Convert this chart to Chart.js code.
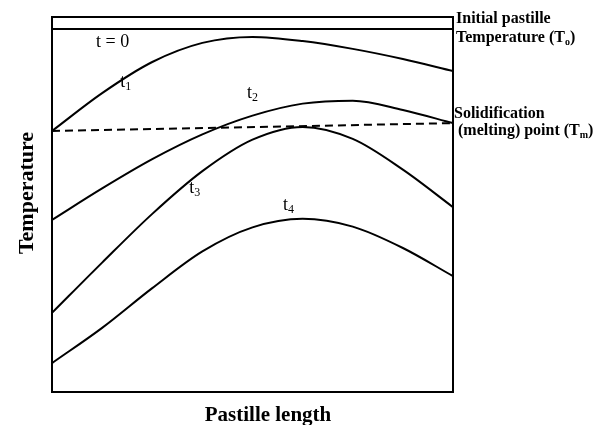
<!DOCTYPE html>
<html>
<head>
<meta charset="utf-8">
<script src="https://cdn.jsdelivr.net/npm/chart.js@4/dist/chart.umd.min.js"></script>
<style>
  body { margin: 0; background: #fff; }
  #wrap { width: 594px; height: 425px; }
</style>
</head>
<body>
<div id="wrap"><canvas id="myChart" width="594" height="425"></canvas></div>
<script>
// position along the pastille (0 - 100 %), sampled evenly
const lengthGrid = [0, 12.5, 25, 37.5, 50, 62.5, 75, 87.5, 100];

// temperature (0 - 100 relative) at each grid position
const tempT0 = [96.8, 96.8, 96.8, 96.8, 96.8, 96.8, 96.8, 96.8, 96.8];
const tempT1 = [69.6, 79.7, 88.0, 93.1, 94.7, 93.6, 91.5, 88.8, 85.6];
const tempT2 = [45.9, 54.3, 62.1, 68.7, 73.7, 76.9, 77.7, 75.2, 71.7];
const tempT3 = [21.1, 34.5, 47.5, 58.9, 67.3, 70.7, 67.5, 59.3, 49.3];
const tempT4 = [7.7, 17.1, 27.7, 37.5, 43.9, 46.2, 44.1, 38.4, 30.9];

// melting point line
const lengthTm = [0, 100];
const tempTm = [69.6, 71.7];

// curve labels: text, subscript, left edge / baseline (length, temp)
const labelText = ['t = 0', 't', 't', 't', 't'];
const labelSub = ['', '1', '2', '3', '4'];
const labelX = [11.0, 17.0, 48.6, 34.2, 57.6];
const labelY = [92.0, 81.3, 78.4, 53.1, 48.5];

function toPoints(xs, ys) {
    return xs.map((x, i) => ({ x: x, y: ys[i] }));
}

function curve(ys) {
    return {
        data: toPoints(lengthGrid, ys),
        borderColor: '#000',
        borderWidth: 2,
        pointRadius: 0,
        fill: false,
        cubicInterpolationMode: 'monotone'
    };
}

const datasets = [
    curve(tempT0),
    curve(tempT1),
    curve(tempT2),
    curve(tempT3),
    curve(tempT4),
    {
        data: toPoints(lengthTm, tempTm),
        borderColor: '#000',
        borderWidth: 2,
        borderDash: [8, 5],
        pointRadius: 0,
        fill: false
    }
];

// writes text with a lowered subscript part, e.g. T + o
function textWithSub(ctx, main, sub, tail, x, y, size, bold) {
    const w = bold ? 'bold ' : '';
    ctx.font = w + size + 'px "Liberation Serif"';
    ctx.fillText(main, x, y);
    let off = ctx.measureText(main).width;
    if (sub) {
        ctx.font = w + Math.round(size * 0.65) + 'px "Liberation Serif"';
        ctx.fillText(sub, x + off, y + 3);
        off += ctx.measureText(sub).width;
    }
    if (tail) {
        ctx.font = w + size + 'px "Liberation Serif"';
        ctx.fillText(tail, x + off, y);
    }
}

// frame, labels and axis titles
const decorations = {
    id: 'decorations',
    afterDraw(chart) {
        const ctx = chart.ctx;
        const a = chart.chartArea;
        const xs = chart.scales.x;
        const ys = chart.scales.y;
        ctx.save();
        ctx.strokeStyle = '#000';
        ctx.lineWidth = 2;
        ctx.strokeRect(a.left, a.top, a.right - a.left, a.bottom - a.top);

        ctx.fillStyle = '#000';
        ctx.textBaseline = 'alphabetic';
        ctx.textAlign = 'left';
        for (let i = 0; i < labelText.length; i++) {
            const px = xs.getPixelForValue(labelX[i]);
            const py = ys.getPixelForValue(labelY[i]);
            textWithSub(ctx, labelText[i], labelSub[i], '', px, py, 18, false);
        }

        // right side notes
        textWithSub(ctx, 'Initial pastille', '', '', 456, 23, 16, true);
        textWithSub(ctx, 'Temperature (T', 'o', ')', 456, 42, 16, true);
        textWithSub(ctx, 'Solidification', '', '', 454, 118, 16, true);
        textWithSub(ctx, ' (melting) point (T', 'm', ')', 454, 135, 16, true);

        // axis titles
        ctx.font = 'bold 21px "Liberation Serif"';
        ctx.textAlign = 'center';
        ctx.fillText('Pastille length', 268, 421);
        ctx.font = 'bold 22px "Liberation Serif"';
        ctx.translate(33, 193);
        ctx.rotate(-Math.PI / 2);
        ctx.fillText('Temperature', 0, 0);
        ctx.restore();
    }
};

const config = {
    type: 'line',
    data: { datasets: datasets },
    options: {
        responsive: false,
        animation: false,
        layout: { padding: { left: 52, right: 141, top: 17, bottom: 33 } },
        plugins: { legend: { display: false }, tooltip: { enabled: false } },
        scales: {
            x: { type: 'linear', min: 0, max: 100, display: false },
            y: { type: 'linear', min: 0, max: 100, display: false }
        }
    },
    plugins: [decorations]
};

const myChart = new Chart(document.getElementById('myChart'), config);
</script>
</body>
</html>
